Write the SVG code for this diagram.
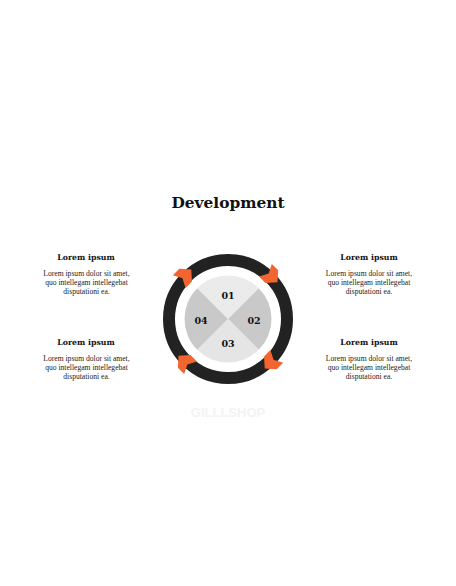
<svg xmlns="http://www.w3.org/2000/svg" width="456" height="586" viewBox="0 0 456 586">
<style>
.title{font-family:"DejaVu Serif","Liberation Serif",serif;font-weight:bold;font-size:15.4px;fill:#111;text-anchor:middle}
.head{font-family:"DejaVu Serif","Liberation Serif",serif;font-weight:bold;font-size:7.8px;fill:#111;text-anchor:middle}
.body{font-family:"Liberation Serif",serif;font-size:7.6px;fill:#222;text-anchor:middle}
.num{font-family:"DejaVu Serif","Liberation Serif",serif;font-weight:bold;font-size:9.5px;fill:#111;text-anchor:middle}
.wm{font-family:"Liberation Sans",Arial,sans-serif;font-weight:bold;font-size:13px;fill:#f3f3f3;text-anchor:middle}
.arrow{fill:#f26531}
</style>
<defs>
<path id="arr" d="M-8,-9 L1,-9 L9,0 L1,9 L-8,9 L-3.5,0 Z"/>
</defs>
<rect width="456" height="586" fill="#ffffff"/>
<text class="title" x="228" y="208">Development</text>
<g id="wheel">
<circle cx="228" cy="319" r="59" fill="none" stroke="#222222" stroke-width="12"/>
<path d="M228,319 L197.24,288.24 A43.5,43.5 0 0 1 258.76,288.24 Z" fill="#ebebeb"/>
<path d="M228,319 L258.76,288.24 A43.5,43.5 0 0 1 258.76,349.76 Z" fill="#c9c9c9"/>
<path d="M228,319 L258.76,349.76 A43.5,43.5 0 0 1 197.24,349.76 Z" fill="#e5e5e5"/>
<path d="M228,319 L197.24,349.76 A43.5,43.5 0 0 1 197.24,288.24 Z" fill="#c9c9c9"/>
<text class="num" x="228" y="298.5">01</text>
<text class="num" x="254" y="323.5">02</text>
<text class="num" x="228" y="347">03</text>
<text class="num" x="201" y="323.5">04</text>
</g>
<g id="connectors">
<use href="#arr" class="arrow" transform="translate(184.9,275.9) rotate(-45)"/>
<use href="#arr" class="arrow" transform="translate(271.1,275.9) rotate(45)"/>
<use href="#arr" class="arrow" transform="translate(271.1,362.1) rotate(135)"/>
<use href="#arr" class="arrow" transform="translate(184.9,362.1) rotate(225)"/>
</g>
<g id="block-tl">
<text class="head" x="86" y="260">Lorem ipsum</text>
<text class="body" x="86.5" y="276">Lorem ipsum dolor sit amet,</text>
<text class="body" x="86.5" y="285">quo intellegam intellegebat</text>
<text class="body" x="86.5" y="294">disputationi ea.</text>
</g>
<g id="block-tr">
<text class="head" x="369" y="260">Lorem ipsum</text>
<text class="body" x="369" y="276">Lorem ipsum dolor sit amet,</text>
<text class="body" x="369" y="285">quo intellegam intellegebat</text>
<text class="body" x="369" y="294">disputationi ea.</text>
</g>
<g id="block-bl">
<text class="head" x="86" y="344.5">Lorem ipsum</text>
<text class="body" x="86.5" y="360.5">Lorem ipsum dolor sit amet,</text>
<text class="body" x="86.5" y="369.5">quo intellegam intellegebat</text>
<text class="body" x="86.5" y="378.5">disputationi ea.</text>
</g>
<g id="block-br">
<text class="head" x="369" y="344.5">Lorem ipsum</text>
<text class="body" x="369" y="360.5">Lorem ipsum dolor sit amet,</text>
<text class="body" x="369" y="369.5">quo intellegam intellegebat</text>
<text class="body" x="369" y="378.5">disputationi ea.</text>
</g>
<text class="wm" x="228" y="417">GILLLSHOP</text>
</svg>
